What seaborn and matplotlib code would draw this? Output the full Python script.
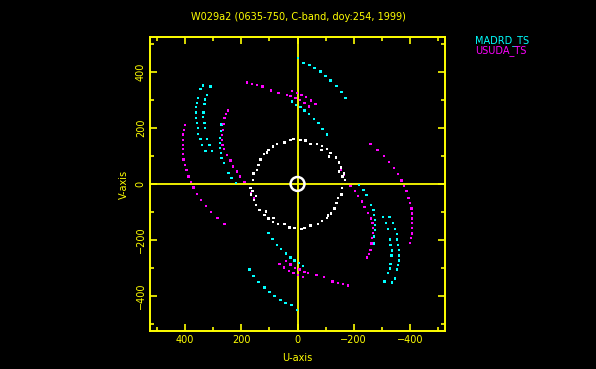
import numpy as np
import pandas as pd
import seaborn as sns
import matplotlib
matplotlib.use('Agg')
import matplotlib.pyplot as plt


# uv points (one half; the conjugate half (-u,-v) is added below)
madrd_u = [337, 346, 354, 358, 361, 361, 361, 357, 355, 354, 346, 339, 327,
           310, 323, 330, 331, 335, 336, 331, 330, 323, 314, 304,
           219, 235, 246, 261, 270, 273, 276, 275, 275, 273, 270,
           -1, -21, -43, -61, -82, -100, -118, -139, -157, -171,
           19, 5, -11, -25, -40, -58, -74, -89, -104]
madrd_v = [352, 338, 306, 290, 274, 255, 235, 217, 199, 179, 160, 139, 118,
           348, 318, 302, 286, 255, 238, 217, 199, 160, 139, 118,
           4, 21, 39, 75, 93, 111, 129, 146, 164, 188, 212,
           449, 432, 425, 414, 401, 386, 369, 350, 329, 306,
           294, 282, 274, 262, 249, 232, 217, 196, 176]

usuda_u = [400, 404, 407, 408, 408, 408, 407, 406, 400, 395, 388, 380, 370, 357, 343, 325, 307, 285, 260,
           248, 254, 260, 263, 265, 268, 269, 267, 261, 251, 239, 230, 215, 204, 188, 165, 154,
           180, 162, 144, 124, 94, 68, 37, 19, 1, -14, -31, -49, -64,
           25, 7, -8, -25, -40]
usuda_v = [210, 193, 177, 157, 139, 124, 106, 88, 68, 50, 26, 7, -12, -36, -57, -79, -100, -121, -143,
           262, 250, 235, 213, 193, 175, 157, 139, 124, 104, 83, 62, 44, 26, 8, -33, -50,
           362, 357, 354, 348, 333, 325, 318, 332, 325, 318, 310, 298, 286,
           314, 306, 300, 288, 276]

ground_u = [158, 156, 144, 132, 120, 108, 88, 73, 46, 25, 14, -11, -29, -46, -70, -88,
            -104, -118, -136, -148, -154, -165, -168, -85, -112, -148, -160, 139, 104]
ground_v = [14, 38, 50, 88, 106, 112, 133, 143, 148, 157, 161, 157, 155, 143, 143, 136,
            124, 110, 94, 76, 58, 38, 14, 121, 98, 44, 26, 68, 121]

origin_u = [0]
origin_v = [0]

title = 'W029a2 (0635-750, C-band, doy:254, 1999)'
stations = ['MADRD_TS', 'USUDA_TS']
colors = {'MADRD_TS': '#00ffff', 'USUDA_TS': '#ff00ff', 'ground': 'white'}


def both_halves(u, v, name):
    u = np.array(u)
    v = np.array(v)
    return pd.DataFrame({'u': np.concatenate([u, -u]),
                         'v': np.concatenate([v, -v]),
                         'station': name})


df = pd.concat([both_halves(madrd_u, madrd_v, 'MADRD_TS'),
                both_halves(usuda_u, usuda_v, 'USUDA_TS'),
                both_halves(ground_u, ground_v, 'ground')], ignore_index=True)

sns.set_style('dark')
plt.rcParams['font.family'] = ['DejaVu Sans']
yel = '#ffff00'

fig = plt.figure(figsize=(5.96, 3.69), dpi=100, facecolor='black')
rect = [0.2517, 0.103, 0.495, 0.797]

# axes through the origin
ax0 = fig.add_axes(rect)
ax0.set_facecolor('black')
ax0.set_xlim(525, -525)
ax0.set_ylim(-525, 525)
for s in ['top', 'right']:
    ax0.spines[s].set_visible(False)
for s in ['left', 'bottom']:
    ax0.spines[s].set_position(('data', 0))
    ax0.spines[s].set_color(yel)
    ax0.spines[s].set_linewidth(1.3)
ax0.set_xticks([400, 200, -200, -400])
ax0.set_yticks([400, 200, -200, -400])
ax0.set_xticks([500, 300, 100, -100, -300, -500], minor=True)
ax0.set_yticks([500, 300, 100, -100, -300, -500], minor=True)
ax0.tick_params(which='major', direction='inout', length=7, width=1.3, color=yel,
                labelbottom=False, labelleft=False)
ax0.tick_params(which='minor', direction='inout', length=4, width=1.3, color=yel)
ax0.grid(False)

# main frame with the data
ax = fig.add_axes(rect)
ax.set_facecolor('none')
sns.scatterplot(data=df, x='u', y='v', hue='station', palette=colors, marker='s',
                s=3, linewidth=0, legend=False, ax=ax)
ax.scatter(origin_u, origin_v, s=100, facecolors='none', edgecolors='white', linewidths=1.8)
ax.set_xlim(525, -525)
ax.set_ylim(-525, 525)
ax.grid(False)
for s in ax.spines.values():
    s.set_color(yel)
    s.set_linewidth(1.4)
    s.set_visible(True)
ax.set_xticks([400, 200, 0, -200, -400])
ax.set_yticks([400, 200, 0, -200, -400])
ax.set_xticks([500, 300, 100, -100, -300, -500], minor=True)
ax.set_yticks([500, 300, 100, -100, -300, -500], minor=True)
ax.tick_params(which='both', direction='in', top=True, right=True, bottom=True, left=True,
               color=yel, labelcolor=yel, labelsize=7, width=1.2)
ax.tick_params(which='major', length=5, pad=3)
ax.tick_params(which='minor', length=3)
for lab in ax.get_yticklabels():
    lab.set_rotation(90)
    lab.set_va('center')
ax.set_xlabel('U-axis', color=yel, fontsize=7, labelpad=6)
ax.set_ylabel('V-axis', color=yel, fontsize=7, labelpad=5)

fig.text(0.5, 1 - 16.5 / 369, title, color=yel, fontsize=7, ha='center', va='center')
fig.text(475 / 596, 1 - 41 / 369, stations[0], color=colors['MADRD_TS'], fontsize=7,
         ha='left', va='center')
fig.text(475 / 596, 1 - 51 / 369, stations[1], color=colors['USUDA_TS'], fontsize=7,
         ha='left', va='center')

plt.savefig('out.png', dpi=100, facecolor='black')
